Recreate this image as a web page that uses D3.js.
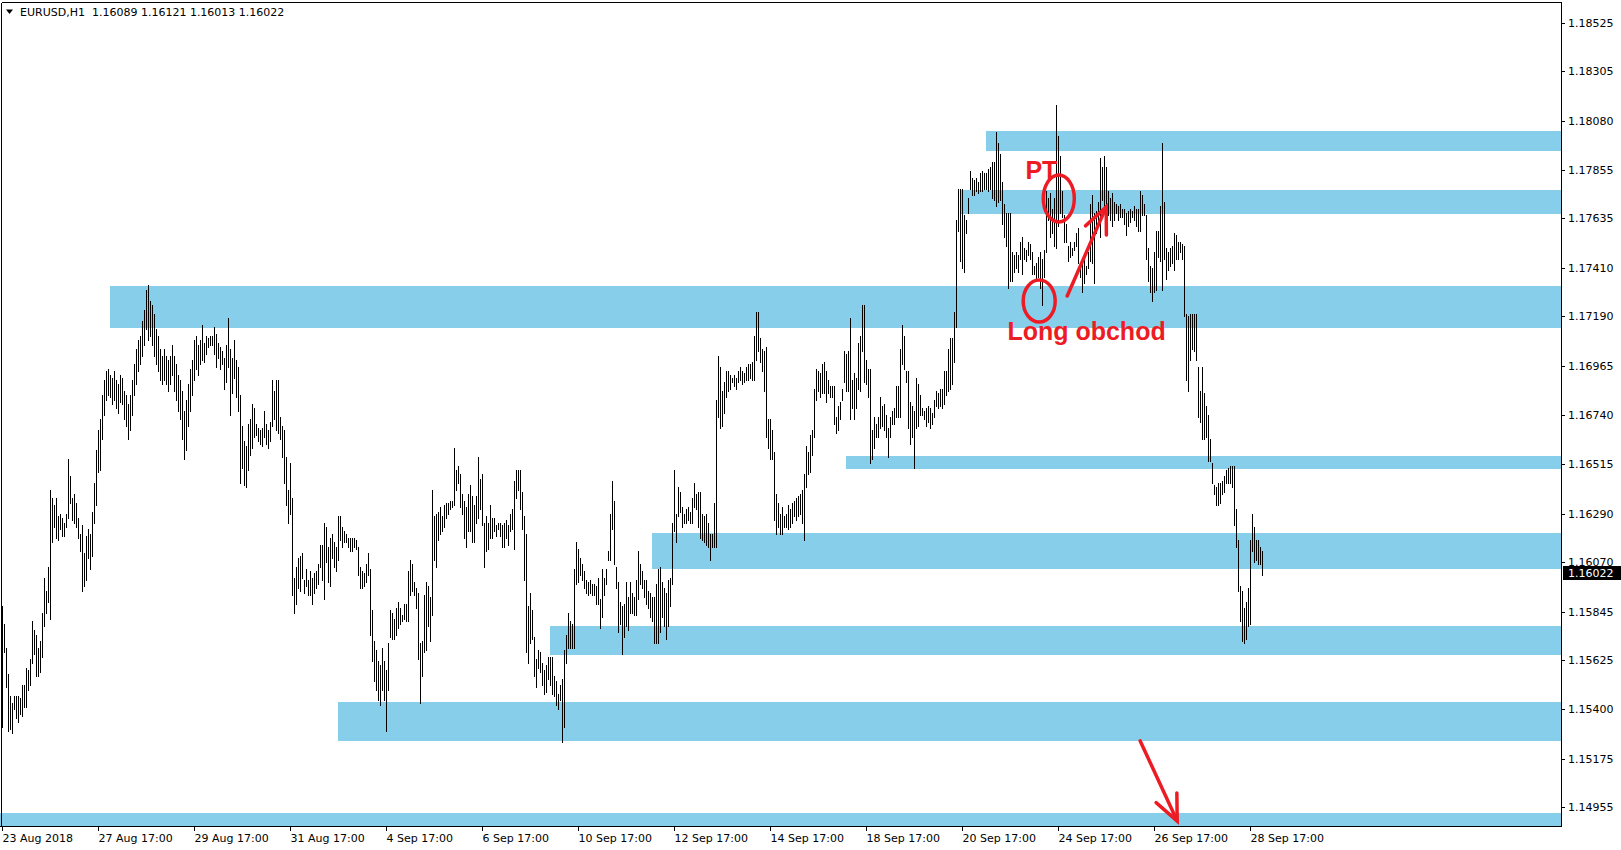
<!DOCTYPE html>
<html><head><meta charset="utf-8">
<script src="https://cdn.jsdelivr.net/npm/d3@7"></script>
<style>
html,body{margin:0;padding:0;background:#fff;overflow:hidden;}
svg{display:block;}
text{font-family:"DejaVu Sans",Verdana,sans-serif;font-size:11px;}
</style></head><body>
<svg id="chart" width="1621" height="850"></svg>
<script>
// ---------- DATA ----------
const symbol = "EURUSD,H1";
const lastOHLC = [1.16089, 1.16121, 1.16013, 1.16022];

// hourly bar highs (from 23 Aug 2018 17:00, weekdays only)
const highs = [
1.1587,1.1579,1.1568,1.1556,1.1546,1.1543,1.1546,1.1546,1.1546,1.1545,
1.1551,1.1551,1.1559,1.1558,1.1563,1.1580,1.1576,1.1574,1.1568,1.1571,
1.1584,1.1600,1.1594,1.1605,1.1640,1.1636,1.1633,1.1636,1.1628,1.1629,
1.1627,1.1625,1.1629,1.1654,1.1646,1.1636,1.1638,1.1634,1.1627,1.1620,
1.1624,1.1611,1.1619,1.1622,1.1620,1.1630,1.1643,1.1658,1.1667,1.1672,
1.1683,1.1690,1.1694,1.1695,1.1692,1.1691,1.1694,1.1690,1.1688,1.1692,
1.1691,1.1685,1.1683,1.1679,1.1683,1.1690,1.1697,1.1704,1.1708,1.1710,
1.1717,1.1722,1.1731,1.1733,1.1726,1.1724,1.1720,1.1713,1.1710,1.1704,
1.1701,1.1704,1.1701,1.1699,1.1701,1.1706,1.1701,1.1697,1.1692,1.1690,
1.1685,1.1676,1.1681,1.1688,1.1695,1.1699,1.1708,1.1710,1.1706,1.1708,
1.1715,1.1707,1.1710,1.1709,1.1710,1.1710,1.1714,1.1711,1.1707,1.1705,
1.1703,1.1700,1.1706,1.1718,1.1704,1.1700,1.1708,1.1699,1.1696,1.1683,
1.1669,1.1662,1.1660,1.1670,1.1672,1.1679,1.1677,1.1670,1.1668,1.1667,
1.1668,1.1676,1.1670,1.1667,1.1671,1.1690,1.1685,1.1690,1.1690,1.1673,
1.1669,1.1667,1.1655,1.1640,1.1652,1.1636,1.1600,1.1605,1.1609,1.1610,
1.1611,1.1599,1.1604,1.1599,1.1603,1.1600,1.1602,1.1603,1.1606,1.1615,
1.1615,1.1625,1.1623,1.1614,1.1618,1.1620,1.1616,1.1614,1.1628,1.1628,
1.1623,1.1621,1.1620,1.1618,1.1618,1.1618,1.1618,1.1617,1.1614,1.1605,
1.1603,1.1602,1.1606,1.1611,1.1604,1.1585,1.1571,1.1567,1.1562,1.1560,
1.1568,1.1562,1.1558,1.1570,1.1585,1.1584,1.1581,1.1586,1.1589,1.1586,
1.1583,1.1588,1.1588,1.1603,1.1608,1.1606,1.1598,1.1595,1.1593,1.1570,
1.1571,1.1592,1.1598,1.1596,1.1591,1.1640,1.1628,1.1629,1.1630,1.1632,
1.1628,1.1633,1.1634,1.1634,1.1635,1.1635,1.1659,1.1649,1.1651,1.1647,
1.1638,1.1635,1.1632,1.1638,1.1642,1.1637,1.1633,1.1637,1.1655,1.1645,
1.1647,1.1625,1.1628,1.1625,1.1633,1.1627,1.1627,1.1624,1.1625,1.1625,
1.1624,1.1625,1.1626,1.1624,1.1629,1.1631,1.1644,1.1649,1.1649,1.1649,
1.1639,1.1628,1.1620,1.1587,1.1593,1.1585,1.1573,1.1563,1.1567,1.1566,
1.1561,1.1558,1.1560,1.1564,1.1564,1.1564,1.1555,1.1553,1.1547,1.1551,
1.1554,1.1567,1.1574,1.1584,1.1580,1.1579,1.1604,1.1616,1.1613,1.1609,
1.1606,1.1603,1.1599,1.1598,1.1599,1.1597,1.1597,1.1596,1.1600,1.1590,
1.1604,1.1600,1.1604,1.1612,1.1629,1.1644,1.1635,1.1605,1.1598,1.1589,
1.1587,1.1588,1.1598,1.1591,1.1598,1.1593,1.1591,1.1599,1.1612,1.1606,
1.1603,1.1599,1.1599,1.1594,1.1593,1.1591,1.1591,1.1597,1.1604,1.1605,
1.1598,1.1595,1.1593,1.1599,1.1600,1.1625,1.1649,1.1629,1.1641,1.1639,
1.1632,1.1629,1.1631,1.1632,1.1630,1.1636,1.1643,1.1638,1.1639,1.1639,
1.1629,1.1628,1.1629,1.1625,1.1620,1.1620,1.1634,1.1681,1.1701,1.1696,
1.1685,1.1689,1.1694,1.1694,1.1692,1.1691,1.1692,1.1691,1.1694,1.1696,
1.1694,1.1693,1.1696,1.1697,1.1697,1.1698,1.1710,1.1721,1.1721,1.1709,
1.1704,1.1703,1.1705,1.1672,1.1672,1.1667,1.1657,1.1638,1.1634,1.1629,
1.1632,1.1628,1.1629,1.1633,1.1631,1.1634,1.1635,1.1636,1.1637,1.1638,
1.1640,1.1647,1.1660,1.1657,1.1665,1.1667,1.1686,1.1695,1.1694,1.1693,
1.1697,1.1698,1.1694,1.1690,1.1687,1.1687,1.1687,1.1673,1.1678,1.1680,
1.1686,1.1703,1.1702,1.1703,1.1718,1.1690,1.1693,1.1691,1.1707,1.1710,
1.1724,1.1724,1.1699,1.1695,1.1695,1.1667,1.1673,1.1670,1.1673,1.1682,
1.1678,1.1679,1.1674,1.1668,1.1673,1.1676,1.1677,1.1687,1.1687,1.1704,
1.1715,1.1710,1.1694,1.1694,1.1680,1.1678,1.1676,1.1691,1.1688,1.1683,
1.1677,1.1676,1.1677,1.1678,1.1677,1.1675,1.1681,1.1685,1.1684,1.1686,
1.1686,1.1694,1.1694,1.1704,1.1709,1.1709,1.1721,1.1763,1.1777,1.1777,
1.1777,1.1765,1.1763,1.1773,1.1785,1.1782,1.1781,1.1782,1.1780,1.1784,
1.1785,1.1784,1.1784,1.1786,1.1787,1.1789,1.1789,1.1803,1.1798,1.1793,
1.1780,1.1770,1.1766,1.1766,1.1766,1.1748,1.1747,1.1748,1.1747,1.1753,
1.1755,1.1750,1.1749,1.1753,1.1752,1.1748,1.1742,1.1743,1.1746,1.1748,
1.1745,1.1749,1.1776,1.1773,1.1775,1.1768,1.1773,1.1815,1.1801,1.1792,
1.1776,1.1765,1.1761,1.1751,1.1753,1.1750,1.1753,1.1757,1.1759,1.1743,
1.1743,1.1745,1.1742,1.1748,1.1770,1.1774,1.1766,1.1767,1.1771,1.1791,
1.1787,1.1792,1.1787,1.1776,1.1773,1.1775,1.1771,1.1770,1.1769,1.1770,
1.1768,1.1768,1.1766,1.1767,1.1768,1.1767,1.1769,1.1768,1.1768,1.1776,
1.1774,1.1770,1.1765,1.1750,1.1742,1.1741,1.1748,1.1758,1.1758,1.1769,
1.1798,1.1771,1.1750,1.1748,1.1750,1.1751,1.1757,1.1756,1.1753,1.1753,
1.1752,1.1751,1.1720,1.1719,1.1720,1.1720,1.1720,1.1720,1.1696,1.1685,
1.1696,1.1684,1.1678,1.1674,1.1663,1.1652,1.1642,1.1641,1.1643,1.1643,
1.1644,1.1646,1.1649,1.1650,1.1651,1.1651,1.1651,1.1631,1.1617,1.1596,
1.1594,1.1586,1.1589,1.1595,1.1617,1.1629,1.1623,1.1617,1.1617,1.1614,
1.16121];

const lows = [
1.1532,1.1566,1.1550,1.1530,1.1531,1.1529,1.1540,1.1536,1.1534,1.1538,
1.1537,1.1541,1.1541,1.1549,1.1551,1.1561,1.1565,1.1555,1.1555,1.1557,
1.1564,1.1578,1.1584,1.1589,1.1581,1.1616,1.1623,1.1618,1.1617,1.1622,
1.1619,1.1619,1.1623,1.1627,1.1634,1.1626,1.1625,1.1623,1.1618,1.1612,
1.1594,1.1596,1.1599,1.1609,1.1604,1.1610,1.1625,1.1633,1.1648,1.1649,
1.1663,1.1674,1.1681,1.1683,1.1682,1.1679,1.1681,1.1677,1.1675,1.1680,
1.1679,1.1672,1.1669,1.1663,1.1667,1.1674,1.1683,1.1688,1.1694,1.1697,
1.1701,1.1706,1.1713,1.1708,1.1710,1.1706,1.1701,1.1697,1.1694,1.1690,
1.1688,1.1690,1.1688,1.1685,1.1688,1.1692,1.1685,1.1681,1.1676,1.1672,
1.1663,1.1654,1.1658,1.1669,1.1676,1.1683,1.1690,1.1695,1.1692,1.1697,
1.1699,1.1698,1.1702,1.1705,1.1706,1.1706,1.1702,1.1696,1.1700,1.1695,
1.1697,1.1686,1.1689,1.1696,1.1674,1.1684,1.1691,1.1682,1.1676,1.1643,
1.1650,1.1642,1.1641,1.1649,1.1656,1.1659,1.1664,1.1665,1.1662,1.1661,
1.1660,1.1664,1.1661,1.1659,1.1662,1.1669,1.1672,1.1667,1.1666,1.1663,
1.1655,1.1643,1.1633,1.1625,1.1629,1.1592,1.1584,1.1588,1.1595,1.1594,
1.1600,1.1593,1.1596,1.1592,1.1592,1.1588,1.1593,1.1595,1.1597,1.1605,
1.1599,1.1590,1.1607,1.1598,1.1596,1.1609,1.1605,1.1603,1.1608,1.1617,
1.1614,1.1616,1.1616,1.1614,1.1612,1.1612,1.1614,1.1613,1.1601,1.1595,
1.1595,1.1596,1.1598,1.1601,1.1574,1.1562,1.1553,1.1549,1.1544,1.1542,
1.1549,1.1544,1.1530,1.1549,1.1573,1.1572,1.1572,1.1574,1.1577,1.1579,
1.1580,1.1581,1.1580,1.1580,1.1592,1.1594,1.1592,1.1586,1.1563,1.1543,
1.1555,1.1566,1.1567,1.1578,1.1571,1.1583,1.1608,1.1605,1.1617,1.1620,
1.1621,1.1623,1.1627,1.1629,1.1631,1.1632,1.1633,1.1640,1.1643,1.1632,
1.1629,1.1618,1.1614,1.1621,1.1621,1.1616,1.1616,1.1625,1.1627,1.1631,
1.1624,1.1605,1.1612,1.1613,1.1618,1.1618,1.1621,1.1619,1.1622,1.1619,
1.1614,1.1614,1.1618,1.1615,1.1621,1.1622,1.1613,1.1636,1.1640,1.1631,
1.1622,1.1599,1.1566,1.1561,1.1570,1.1572,1.1555,1.1550,1.1559,1.1557,
1.1551,1.1547,1.1548,1.1554,1.1551,1.1547,1.1546,1.1542,1.1540,1.1544,
1.1525,1.1532,1.1561,1.1568,1.1568,1.1568,1.1568,1.1597,1.1598,1.1601,
1.1599,1.1595,1.1593,1.1592,1.1593,1.1592,1.1592,1.1588,1.1588,1.1577,
1.1582,1.1592,1.1597,1.1608,1.1608,1.1622,1.1606,1.1595,1.1575,1.1579,
1.1565,1.1573,1.1578,1.1576,1.1584,1.1584,1.1583,1.1583,1.1590,1.1597,
1.1595,1.1591,1.1588,1.1586,1.1582,1.1580,1.1570,1.1570,1.1570,1.1575,
1.1582,1.1578,1.1572,1.1578,1.1587,1.1597,1.1621,1.1616,1.1628,1.1630,
1.1623,1.1625,1.1625,1.1626,1.1625,1.1625,1.1632,1.1631,1.1623,1.1618,
1.1617,1.1616,1.1615,1.1614,1.1608,1.1614,1.1614,1.1614,1.1673,1.1668,
1.1669,1.1675,1.1682,1.1685,1.1686,1.1689,1.1687,1.1686,1.1689,1.1690,
1.1688,1.1689,1.1690,1.1690,1.1691,1.1690,1.1690,1.1699,1.1703,1.1698,
1.1694,1.1685,1.1664,1.1659,1.1654,1.1654,1.1626,1.1620,1.1623,1.1620,
1.1620,1.1623,1.1623,1.1622,1.1623,1.1625,1.1628,1.1626,1.1628,1.1629,
1.1625,1.1617,1.1641,1.1647,1.1648,1.1656,1.1664,1.1681,1.1685,1.1682,
1.1684,1.1684,1.1680,1.1684,1.1682,1.1682,1.1670,1.1666,1.1667,1.1672,
1.1681,1.1689,1.1685,1.1685,1.1672,1.1677,1.1672,1.1677,1.1686,1.1685,
1.1703,1.1689,1.1688,1.1682,1.1652,1.1654,1.1659,1.1664,1.1664,1.1668,
1.1669,1.1667,1.1664,1.1655,1.1664,1.1670,1.1670,1.1673,1.1673,1.1673,
1.1697,1.1695,1.1689,1.1668,1.1661,1.1664,1.1650,1.1668,1.1669,1.1674,
1.1674,1.1672,1.1669,1.1671,1.1668,1.1670,1.1673,1.1678,1.1677,1.1678,
1.1677,1.1679,1.1683,1.1685,1.1686,1.1688,1.1698,1.1714,1.1758,1.1744,
1.1741,1.1739,1.1757,1.1766,1.1777,1.1774,1.1774,1.1776,1.1775,1.1776,
1.1776,1.1777,1.1777,1.1776,1.1777,1.1773,1.1772,1.1769,1.1771,1.1772,
1.1761,1.1755,1.1751,1.1732,1.1735,1.1735,1.1739,1.1741,1.1739,1.1745,
1.1738,1.1745,1.1744,1.1747,1.1745,1.1738,1.1738,1.1735,1.1737,1.1732,
1.1724,1.1737,1.1748,1.1763,1.1755,1.1757,1.1751,1.1750,1.1760,1.1766,
1.1764,1.1753,1.1753,1.1744,1.1746,1.1747,1.1749,1.1751,1.1743,1.1737,
1.1730,1.1734,1.1738,1.1741,1.1744,1.1743,1.1734,1.1757,1.1760,1.1755,
1.1772,1.1766,1.1766,1.1765,1.1763,1.1760,1.1763,1.1766,1.1763,1.1764,
1.1764,1.1761,1.1756,1.1760,1.1762,1.1764,1.1763,1.1760,1.1758,1.1758,
1.1765,1.1765,1.1745,1.1735,1.1730,1.1726,1.1730,1.1731,1.1746,1.1744,
1.1731,1.1745,1.1736,1.1740,1.1742,1.1743,1.1740,1.1745,1.1745,1.1748,
1.1745,1.1719,1.1690,1.1685,1.1699,1.1704,1.1703,1.1699,1.1673,1.1671,
1.1663,1.1663,1.1664,1.1653,1.1653,1.1643,1.1638,1.1633,1.1633,1.1634,
1.1638,1.1639,1.1643,1.1643,1.1643,1.1641,1.1624,1.1614,1.1594,1.1580,
1.1571,1.1570,1.1572,1.1578,1.1579,1.1612,1.1607,1.1608,1.1606,1.1606,
1.16013];

// price axis labels
const priceTicks = [1.18525,1.18305,1.18080,1.17855,1.17635,1.17410,1.17190,1.16965,
  1.16740,1.16515,1.16290,1.16070,1.15845,1.15625,1.15400,1.15175,1.14955];
// time axis labels and the bar they belong to
const timeLabels = ["23 Aug 2018","27 Aug 17:00","29 Aug 17:00","31 Aug 17:00","4 Sep 17:00",
  "6 Sep 17:00","10 Sep 17:00","12 Sep 17:00","14 Sep 17:00","18 Sep 17:00","20 Sep 17:00",
  "24 Sep 17:00","26 Sep 17:00","28 Sep 17:00"];
const timeLabelBars = [0,48,96,144,192,240,288,336,384,432,480,528,576,624];

// support/resistance zones: start bar, upper price, lower price
const zoneStart = [492, 479, 54, 422, 325, 274, 168, -20];
const zoneTop    = [1.18033,1.17765,1.17328,1.16553,1.16203,1.15779,1.15433,1.14928];
const zoneBottom = [1.17942,1.17655,1.17136,1.16494,1.16039,1.15647,1.15256,1.14800];

// annotations (bar index, price)
const ellipses = [ {bar:528.4, price:1.17726, rBars:7.75, rPrice:0.00107},
                   {bar:518.6, price:1.17259, rBars:8.0,  rPrice:0.00096} ];
const labels = [ {text:"PT", bar:511.7, price:1.17815},
                 {text:"Long obchod", bar:502.7, price:1.17082} ];
const arrows = [ {from:[532.6,1.17282], to:[552.1,1.17687]},
                 {from:[569.1,1.15256], to:[587.6,1.14891]} ];

// ---------- DRAW ----------
const W = 1621, H = 850;
const plotL = 0, plotR = 1561, plotT = 3, plotB = 826;
const red = "#ED1C24", zoneColor = "#87CEEB";

const svg = d3.select("#chart");
svg.append("rect").attr("width",W).attr("height",H).attr("fill","#fff");

const x = d3.scaleLinear().domain([0, 779]).range([2, 1560]);
const y = d3.scaleLinear().domain([1.14955, 1.18525]).range([807, 23]);

svg.append("clipPath").attr("id","plotclip").append("rect")
  .attr("x",plotL).attr("y",plotT).attr("width",plotR-plotL).attr("height",plotB-plotT);
const g = svg.append("g").attr("clip-path","url(#plotclip)");

// zones
g.append("g").selectAll("rect").data(d3.range(zoneStart.length)).join("rect")
  .attr("x", i => Math.round(x(zoneStart[i])))
  .attr("y", i => Math.round(y(zoneTop[i])))
  .attr("width", i => plotR - Math.round(x(zoneStart[i])))
  .attr("height", i => Math.round(y(zoneBottom[i])) - Math.round(y(zoneTop[i])))
  .attr("fill", zoneColor);

// bars (high-low)
g.append("g").attr("shape-rendering","crispEdges")
  .selectAll("rect").data(d3.range(highs.length)).join("rect")
  .attr("x", i => Math.round(x(i)))
  .attr("y", i => Math.round(y(highs[i])))
  .attr("width", 1)
  .attr("height", i => Math.max(1, Math.round(y(lows[i])) - Math.round(y(highs[i])) + 1))
  .attr("fill", "#000");

// annotations
const ann = g.append("g");
ann.selectAll("ellipse").data(ellipses).join("ellipse")
  .attr("cx", d => x(d.bar)).attr("cy", d => y(d.price))
  .attr("rx", d => x(d.bar + d.rBars) - x(d.bar))
  .attr("ry", d => y(d.price - d.rPrice) - y(d.price))
  .attr("fill","none").attr("stroke",red).attr("stroke-width",3.5);
ann.selectAll("text").data(labels).join("text")
  .attr("x", d => x(d.bar)).attr("y", d => y(d.price))
  .text(d => d.text)
  .style("font-family","'Liberation Sans',Arial,sans-serif")
  .style("font-size","25px").style("font-weight","bold").attr("fill",red);
arrows.forEach(a => {
  const x1 = x(a.from[0]), y1 = y(a.from[1]), x2 = x(a.to[0]), y2 = y(a.to[1]);
  const ang = Math.atan2(y1 - y2, x1 - x2);
  const L = 28;
  const w1 = [x2 + L*Math.cos(ang+0.42), y2 + L*Math.sin(ang+0.42)];
  const w2 = [x2 + L*Math.cos(ang-0.42), y2 + L*Math.sin(ang-0.42)];
  const line = d3.line();
  ann.append("path").attr("d", line([[x1,y1],[x2,y2]]))
    .attr("stroke",red).attr("stroke-width",3.5).attr("fill","none").attr("stroke-linecap","round");
  ann.append("path").attr("d", line([w1,[x2,y2],w2]))
    .attr("stroke",red).attr("stroke-width",3.5).attr("fill","none")
    .attr("stroke-linejoin","miter").attr("stroke-linecap","round");
});

// frame
const frame = svg.append("g").attr("shape-rendering","crispEdges").attr("stroke","#000").attr("fill","none");
frame.append("path").attr("d", `M${plotR+0.5},${plotT-0.5}V${plotB+0.5}H0`);
frame.append("path").attr("d", `M1.5,${plotT-0.5}V${plotB}`);
frame.append("path").attr("d", `M1.5,${plotT-0.5}H${plotR+0.5}`);

// price axis
const ya = svg.append("g");
priceTicks.forEach(v => {
  const py = Math.round(y(v)) + 0.5;
  ya.append("line").attr("x1",plotR+1).attr("x2",plotR+4).attr("y1",py).attr("y2",py)
    .attr("stroke","#000").attr("shape-rendering","crispEdges");
  ya.append("text").attr("x",plotR+7).attr("y",py).attr("dy","0.36em").attr("fill","#000").text(v.toFixed(5));
});
// current price marker
const cy = Math.round(y(lastOHLC[3]));
ya.append("rect").attr("x",plotR+2).attr("y",cy-7).attr("width",W-plotR-2).attr("height",14).attr("fill","#000");
ya.append("text").attr("x",plotR+7).attr("y",cy+0.5).attr("dy","0.36em").attr("fill","#fff").text(lastOHLC[3].toFixed(5));

// time axis
const xa = svg.append("g");
timeLabelBars.forEach((b,k) => {
  const px = Math.round(x(b)) + 0.5;
  xa.append("line").attr("x1",px).attr("x2",px).attr("y1",plotB+1).attr("y2",plotB+5)
    .attr("stroke","#000").attr("shape-rendering","crispEdges");
  xa.append("text").attr("x",px).attr("y",plotB+16).attr("fill","#000").text(timeLabels[k]);
});

// header
svg.append("path").attr("d","M6,9.5H13L9.5,14Z").attr("fill","#000");
svg.append("text").attr("x",20).attr("y",16).attr("fill","#000").style("white-space","pre")
  .text(symbol + "  " + lastOHLC.map(v => v.toFixed(5)).join(" "));
</script>
</body></html>
